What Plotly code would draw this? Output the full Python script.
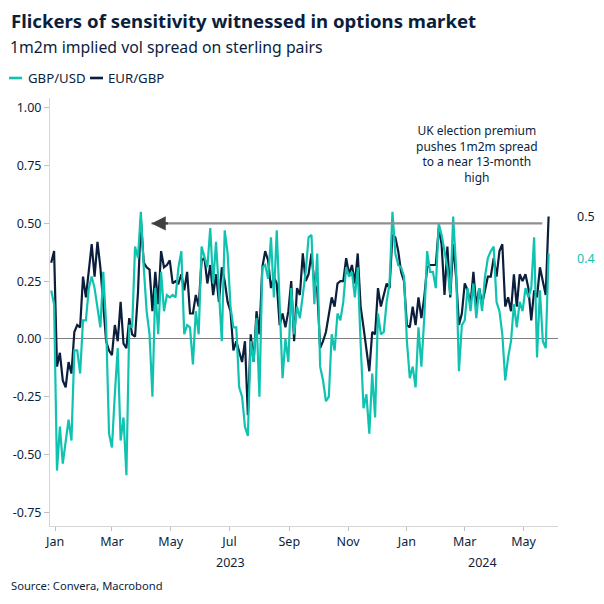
import pandas as pd
import plotly.graph_objects as go

# ---------------- data ----------------
start_date = "2022-12-28"
step = "3D"

eur_gbp = [
    0.33, 0.38, -0.12, -0.06, -0.18, -0.21, -0.10, -0.15, 0.03, 0.06,
    0.05, 0.27, 0.18, 0.29, 0.41, 0.27, 0.42, 0.31, 0.15, -0.01,
    -0.05, -0.07, 0.06, -0.01, 0.16, -0.02, -0.04, 0.09, 0.02, 0.01,
    0.20, 0.52, 0.33, 0.31, 0.30, 0.12, 0.29, 0.15, 0.38, 0.31,
    0.32, 0.34, 0.24, 0.25, 0.24, 0.28, 0.21, 0.29, 0.11, 0.11,
    0.19, 0.14, 0.34, 0.35, 0.24, 0.32, 0.19, 0.28, 0.16, 0.31,
    0.25, 0.16, 0.12, -0.05, -0.01, -0.05, -0.10, -0.01, -0.33, 0.02,
    -0.10, 0.12, 0.02, 0.31, 0.38, 0.34, 0.22, 0.27, 0.24, 0.06,
    0.11, 0.05, 0.12, 0.25, -0.01, 0.22, 0.19, 0.37, 0.25, 0.28,
    0.37, 0.24, 0.21, -0.04, -0.01, 0.03, 0.11, 0.18, 0.14, 0.24,
    0.25, 0.25, 0.35, 0.28, 0.32, 0.24, 0.37, 0.14, 0.05, -0.05,
    -0.14, 0.03, 0.02, 0.22, 0.14, 0.19, 0.24, 0.22, 0.45, 0.44,
    0.38, 0.29, 0.25, 0.06, 0.05, 0.14, 0.06, 0.18, 0.09, 0.18,
    0.31, 0.32, 0.32, 0.32, 0.48, 0.41, 0.19, 0.40, 0.18, 0.41,
    0.27, 0.06, 0.11, 0.24, 0.21, 0.15, 0.29, 0.14, 0.22, 0.15,
    0.21, 0.27, 0.27, 0.35, 0.27, 0.38, 0.41, 0.14, 0.18, 0.12,
    0.28, 0.14, 0.28, 0.25, 0.28, 0.22, 0.08, 0.21, 0.18, 0.31,
    0.25, 0.19, 0.53,
]

gbp_usd = [
    0.21, 0.15, -0.57, -0.38, -0.54, -0.44, -0.35, -0.44, -0.05, -0.05,
    -0.15, 0.08, 0.08, 0.22, 0.27, 0.22, 0.14, 0.05, 0.29, 0.06,
    -0.41, -0.47, -0.24, -0.04, -0.44, -0.34, -0.59, 0.06, 0.05, 0.40,
    0.35, 0.55, 0.31, 0.12, 0.02, -0.25, 0.22, 0.02, 0.29, 0.12,
    0.19, 0.18, 0.19, 0.18, 0.31, 0.38, 0.02, 0.06, 0.05, -0.11,
    0.12, 0.02, 0.40, 0.35, 0.31, 0.48, 0.24, 0.42, 0.22, -0.01,
    0.47, 0.37, 0.14, 0.05, 0.05, -0.21, -0.25, -0.38, -0.42, -0.01,
    -0.10, 0.09, -0.25, 0.31, 0.32, 0.26, 0.44, 0.18, 0.47, 0.12,
    -0.17, 0.00, -0.10, 0.22, 0.02, 0.14, 0.09, 0.19, 0.29, 0.44,
    0.45, 0.15, 0.37, -0.12, -0.18, -0.27, -0.25, 0.02, -0.05, 0.11,
    0.08, 0.16, 0.31, 0.27, 0.29, 0.18, 0.31, -0.02, -0.30, -0.24,
    -0.41, -0.15, -0.34, 0.11, 0.02, 0.03, 0.16, 0.24, 0.55, 0.37,
    0.32, 0.31, 0.27, -0.01, -0.17, -0.12, -0.21, 0.05, -0.12, 0.09,
    0.38, 0.29, 0.29, 0.22, 0.50, 0.45, 0.38, 0.31, 0.19, 0.53,
    0.31, -0.14, 0.06, 0.08, 0.22, 0.12, 0.24, 0.09, 0.22, 0.12,
    0.27, 0.35, 0.38, 0.40, 0.16, 0.12, 0.02, -0.18, -0.08, -0.01,
    0.15, 0.05, 0.16, 0.12, 0.22, 0.18, 0.22, 0.44, -0.08, 0.21,
    -0.01, -0.04, 0.37,
]

series_names = ["GBP/USD", "EUR/GBP"]

month_ticks = ["2023-01-01", "2023-03-01", "2023-05-01", "2023-07-01", "2023-09-01",
               "2023-11-01", "2024-01-01", "2024-03-01", "2024-05-01"]
month_labels = ["Jan", "Mar", "May", "Jul", "Sep", "Nov", "Jan", "Mar", "May"]
year_labels = ["2023", "2024"]
year_label_dates = ["2023-07-02", "2024-03-19"]

y_ticks = [1.00, 0.75, 0.50, 0.25, 0.00, -0.25, -0.50, -0.75]
y_tick_labels = ["1.00", "0.75", "0.50", "0.25", "0.00", "-0.25", "-0.50", "-0.75"]

arrow_tip_date = "2023-04-11"
arrow_tail_date = "2024-05-22"
arrow_level = 0.50

# ---------------- style ----------------
TEAL = "#10c3b1"
NAVY = "#0b1e3c"
FONT = "Noto Sans"

dates = pd.date_range(start_date, periods=len(eur_gbp), freq=step)

fig = go.Figure()
fig.add_trace(go.Scatter(x=dates, y=eur_gbp, mode="lines", name=series_names[1],
                         line=dict(color=NAVY, width=2.2)))
fig.add_trace(go.Scatter(x=dates, y=gbp_usd, mode="lines", name=series_names[0],
                         line=dict(color=TEAL, width=2.2)))

plot_l, plot_r, plot_t, plot_b = 50, 46, 98, 78
W = H = 604
pw = W - plot_l - plot_r
ph = H - plot_t - plot_b


def px_x(x):
    return (x - plot_l) / pw


def px_y(y):
    return (H - plot_b - y) / ph


annotations = [
    dict(text="<b>Flickers of sensitivity witnessed in options market</b>",
         xref="paper", yref="paper", x=px_x(9), y=px_y(20), xanchor="left", yanchor="middle",
         showarrow=False, font=dict(size=18.6, color=NAVY, family=FONT)),
    dict(text="1m2m implied vol spread on sterling pairs",
         xref="paper", yref="paper", x=px_x(8), y=px_y(47), xanchor="left", yanchor="middle",
         showarrow=False, font=dict(size=15.8, color=NAVY, family=FONT)),
    # legend texts
    dict(text=series_names[0], xref="paper", yref="paper", x=px_x(26), y=px_y(78),
         xanchor="left", yanchor="middle", showarrow=False,
         font=dict(size=13.2, color=NAVY, family=FONT)),
    dict(text=series_names[1], xref="paper", yref="paper", x=px_x(106), y=px_y(78),
         xanchor="left", yanchor="middle", showarrow=False,
         font=dict(size=13.2, color=NAVY, family=FONT)),
    dict(text="Source: Convera, Macrobond",
         xref="paper", yref="paper", x=px_x(9), y=px_y(585), xanchor="left", yanchor="middle",
         showarrow=False, font=dict(size=11.2, color=NAVY, family=FONT)),
    dict(text="UK election premium<br>pushes 1m2m spread<br>to a near 13-month<br>high",
         xref="paper", yref="paper", x=px_x(477), y=px_y(154), xanchor="center", yanchor="middle",
         showarrow=False, align="center", font=dict(size=12, color=NAVY, family=FONT)),
    # end-value labels
    dict(text=f"{eur_gbp[-1]:.1f}", xref="paper", yref="y", x=px_x(575), y=eur_gbp[-1],
         xanchor="left", yanchor="middle", showarrow=False,
         font=dict(size=12.5, color=NAVY, family=FONT)),
    dict(text=f"{gbp_usd[-1]:.1f}", xref="paper", yref="y", x=px_x(575), y=gbp_usd[-1] - 0.02,
         xanchor="left", yanchor="middle", showarrow=False,
         font=dict(size=12.5, color=TEAL, family=FONT)),
    # arrow shaft
    dict(text="", x=arrow_tip_date, y=arrow_level, ax=arrow_tail_date, ay=arrow_level,
         xref="x", yref="y", axref="x", ayref="y", showarrow=True,
         arrowhead=0, arrowwidth=2.2, arrowcolor="#8f8f8f"),
    # arrow head
    dict(text="", x=arrow_tip_date, y=arrow_level, ax=18, ay=0,
         xref="x", yref="y", showarrow=True,
         arrowhead=2, arrowsize=1.3, arrowwidth=2.2, arrowcolor="#404040", standoff=0),
]

for lbl, d in zip(year_labels, year_label_dates):
    annotations.append(dict(text=lbl, xref="x", yref="paper", x=d, y=px_y(562),
                            xanchor="center", yanchor="middle", showarrow=False,
                            font=dict(size=12.5, color=NAVY, family=FONT)))

# legend line swatches
shapes = [
    dict(type="line", xref="paper", yref="paper", x0=px_x(9), x1=px_x(22),
         y0=px_y(78), y1=px_y(78), line=dict(color=TEAL, width=2.6)),
    dict(type="line", xref="paper", yref="paper", x0=px_x(90), x1=px_x(103),
         y0=px_y(78), y1=px_y(78), line=dict(color=NAVY, width=2.6)),
]

fig.update_layout(
    width=W, height=H,
    margin=dict(l=plot_l, r=plot_r, t=plot_t, b=plot_b, pad=0),
    paper_bgcolor="white", plot_bgcolor="white",
    showlegend=False,
    font=dict(family=FONT, color=NAVY, size=12.5),
    annotations=annotations,
    shapes=shapes,
)

fig.update_xaxes(
    type="date",
    range=["2022-12-26 18:00", "2024-06-05 18:00"],
    tickvals=month_ticks, ticktext=month_labels,
    ticks="outside", ticklen=4, tickcolor="#bfbfbf", tickwidth=1,
    showline=True, linecolor="#d6d6d6", linewidth=1,
    showgrid=False, zeroline=False,
    tickfont=dict(size=12.5, color=NAVY, family=FONT),
)

fig.update_yaxes(
    range=[-0.81, 1.043],
    tickvals=y_ticks, ticktext=y_tick_labels,
    ticks="outside", ticklen=5, tickcolor="#bfbfbf", tickwidth=1,
    showline=True, linecolor="#d6d6d6", linewidth=1,
    showgrid=False,
    zeroline=True, zerolinecolor="#7f7f7f", zerolinewidth=1.3,
    tickfont=dict(size=12.5, color=NAVY, family=FONT),
)

fig.write_html("out.html")
